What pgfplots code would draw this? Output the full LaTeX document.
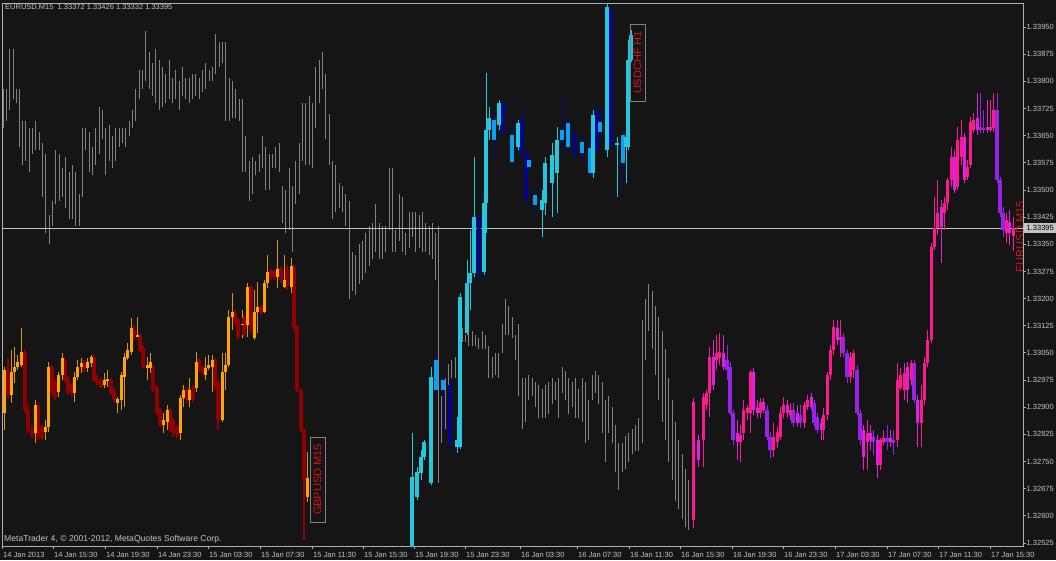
\documentclass[border=0pt]{standalone}
\usepackage{pgfplots}
\usepackage{pgfplotstable}
\pgfplotsset{compat=1.18}
\usepackage{fontspec}
\setmainfont{Liberation Sans}
\definecolor{bg}{RGB}{21,21,21}
\definecolor{axc}{RGB}{175,175,175}
\definecolor{txt}{RGB}{195,195,195}
\definecolor{barg}{RGB}{130,130,130}
\definecolor{pline}{RGB}{195,195,195}
\definecolor{gbpup}{RGB}{255,165,0}
\definecolor{gbpupw}{RGB}{210,150,20}
\definecolor{gbpdn}{RGB}{145,0,0}
\definecolor{chfup}{RGB}{35,200,222}
\definecolor{chfdn}{RGB}{5,5,140}
\definecolor{chfbl}{RGB}{10,160,245}
\definecolor{eurup}{RGB}{255,25,145}
\definecolor{eurdn}{RGB}{150,35,232}
\definecolor{eurmg}{RGB}{225,30,225}
\definecolor{lblred}{RGB}{215,20,20}
\definecolor{lblbox}{RGB}{130,130,130}

% EURUSD M15 bars (x = bar position, h = high, l = low)
\pgfplotstableread{
x h l
3 1.3378 1.3367
6 1.3378 1.3369
9 1.3389 1.3372
13 1.3389 1.3375
16 1.3378 1.3374
19 1.3378 1.3362
22 1.3369 1.3357
25 1.3369 1.3358
29 1.3367 1.3355
32 1.3367 1.3360
35 1.3369 1.3361
39 1.3366 1.3361
42 1.3363 1.3348
45 1.3360 1.3338
49 1.3343 1.3335
52 1.3347 1.3340
55 1.3361 1.3346
59 1.3360 1.3347
62 1.3356 1.3348
65 1.3359 1.3345
69 1.3355 1.3342
72 1.3357 1.3342
75 1.3355 1.3340
79 1.3349 1.3340
82 1.3367 1.3348
85 1.3367 1.3361
89 1.3366 1.3355
92 1.3362 1.3354
95 1.3367 1.3357
99 1.3373 1.3360
102 1.3372 1.3364
105 1.3367 1.3354
109 1.3368 1.3358
112 1.3365 1.3356
115 1.3367 1.3358
119 1.3367 1.3362
122 1.3367 1.3363
125 1.3367 1.3362
129 1.3369 1.3365
132 1.3372 1.3367
135 1.3378 1.3369
139 1.3383 1.3375
142 1.3383 1.3378
145 1.3394 1.3380
149 1.3388 1.3378
152 1.3385 1.3376
155 1.3389 1.3374
159 1.3386 1.3372
162 1.3384 1.3373
165 1.3382 1.3374
169 1.3386 1.3375
172 1.3381 1.3374
175 1.3383 1.3375
179 1.3380 1.3372
182 1.3384 1.3376
185 1.3381 1.3375
189 1.3381 1.3374
192 1.3382 1.3375
195 1.3382 1.3376
199 1.3381 1.3375
202 1.3383 1.3377
205 1.3385 1.3378
209 1.3383 1.3380
212 1.3384 1.3380
215 1.3393 1.3382
219 1.3391 1.3384
222 1.3391 1.3385
225 1.3391 1.3369
229 1.3381 1.3369
232 1.3380 1.3370
235 1.3378 1.3370
239 1.3375 1.3369
242 1.3375 1.3355
245 1.3365 1.3355
249 1.3358 1.3347
252 1.3359 1.3349
255 1.3358 1.3354
259 1.3360 1.3355
262 1.3365 1.3356
265 1.3362 1.3350
269 1.3360 1.3350
272 1.3360 1.3356
275 1.3362 1.3356
279 1.3363 1.3355
282 1.3351 1.3341
285 1.3350 1.3338
289 1.3356 1.3339
292 1.3351 1.3333
295 1.3358 1.3346
299 1.3363 1.3349
302 1.3374 1.3358
305 1.3374 1.3357
309 1.3376 1.3357
312 1.3374 1.3356
315 1.3384 1.3367
319 1.3386 1.3374
322 1.3388 1.3378
325 1.3382 1.3364
329 1.3371 1.3357
332 1.3358 1.3342
335 1.3357 1.3344
339 1.3352 1.3345
342 1.3351 1.3344
345 1.3349 1.3340
349 1.3347 1.3320
352 1.3333 1.3322
355 1.3332 1.3321
359 1.3335 1.3324
362 1.3336 1.3325
365 1.3338 1.3327
369 1.3340 1.3329
372 1.3341 1.3331
375 1.3346 1.3333
379 1.3341 1.3331
382 1.3340 1.3331
385 1.3340 1.3333
389 1.3356 1.3339
392 1.3356 1.3333
395 1.3339 1.3333
399 1.3349 1.3336
402 1.3348 1.3333
405 1.3338 1.3332
409 1.3344 1.3334
412 1.3344 1.3337
415 1.3344 1.3333
419 1.3343 1.3334
422 1.3344 1.3333
425 1.3341 1.3333
429 1.3340 1.3332
432 1.3341 1.3331
435 1.3338 1.3325
438 1.3340 1.3269
441 1.3293 1.3280
445 1.3298 1.3284
448 1.3302 1.3292
451 1.3303 1.3298
455 1.3304 1.3298
458 1.3311 1.3300
462 1.3312 1.3308
465 1.3310 1.3308
468 1.3314 1.3307
472 1.3311 1.3307
475 1.3310 1.3307
478 1.3309 1.3306
482 1.3311 1.3306
485 1.3310 1.3306
488 1.3307 1.3298
492 1.3304 1.3298
495 1.3305 1.3299
498 1.3305 1.3298
502 1.3313 1.3305
505 1.3320 1.3310
508 1.3318 1.3310
512 1.3315 1.3309
515 1.3310 1.3303
518 1.3313 1.3293
522 1.3298 1.3284
525 1.3298 1.3286
528 1.3299 1.3292
532 1.3298 1.3293
535 1.3297 1.3290
538 1.3296 1.3287
542 1.3295 1.3287
545 1.3296 1.3287
548 1.3297 1.3288
552 1.3298 1.3291
555 1.3297 1.3292
558 1.3298 1.3287
562 1.3301 1.3294
565 1.3300 1.3292
568 1.3298 1.3288
572 1.3297 1.3290
575 1.3298 1.3287
578 1.3295 1.3287
582 1.3298 1.3286
585 1.3297 1.3280
588 1.3292 1.3281
592 1.3299 1.3292
595 1.3300 1.3294
598 1.3299 1.3291
602 1.3297 1.3283
605 1.3292 1.3275
608 1.3293 1.3283
612 1.3290 1.3280
615 1.3285 1.3272
618 1.3280 1.3267
622 1.3280 1.3272
625 1.3282 1.3273
628 1.3283 1.3275
632 1.3284 1.3277
635 1.3285 1.3278
638 1.3287 1.3278
642 1.3314 1.3280
645 1.3320 1.3303
648 1.3324 1.3311
652 1.3322 1.3306
655 1.3318 1.3299
658 1.3315 1.3292
662 1.3311 1.3286
665 1.3306 1.3281
668 1.3298 1.3275
672 1.3292 1.3270
675 1.3286 1.3264
678 1.3281 1.3262
682 1.3277 1.3259
685 1.3273 1.3257
688 1.3270 1.3256
}\eurbars

% GBPUSD M15 overlay: t=1 bull, t=2 bear
\pgfplotstableread{
x o h l c t
5 1.32884 1.33011 1.32837 1.33003 1
8 1.33003 1.33036 1.32925 1.32934 2
12 1.32934 1.33058 1.32912 1.32997 1
15 1.32997 1.33066 1.32967 1.33011 1
18 1.33011 1.33044 1.33003 1.33025 1
22 1.33017 1.33119 1.33011 1.33052 1
25 1.33052 1.33058 1.32884 1.32892 2
28 1.32892 1.32906 1.32829 1.32837 2
32 1.32837 1.32851 1.32815 1.32823 2
35 1.32829 1.32920 1.32801 1.32906 1
38 1.32906 1.32912 1.32809 1.32818 2
42 1.32845 1.32851 1.32809 1.32815 2
45 1.32832 1.32865 1.32809 1.32845 1
48 1.32845 1.33025 1.32832 1.33011 1
52 1.33011 1.33017 1.32934 1.32939 2
55 1.32967 1.32975 1.32920 1.32928 2
58 1.32942 1.32997 1.32928 1.32989 1
62 1.32989 1.33050 1.32975 1.33036 1
65 1.33030 1.33036 1.32970 1.32975 2
68 1.32981 1.32986 1.32934 1.32939 2
72 1.32961 1.32967 1.32928 1.32939 2
74 1.32939 1.32997 1.32914 1.32983 1
77 1.32983 1.33030 1.32975 1.33011 1
81 1.33011 1.33036 1.32994 1.33022 1
84 1.33022 1.33030 1.32997 1.33003 2
87 1.33008 1.33036 1.32997 1.33025 1
91 1.33022 1.33044 1.33011 1.33039 1
94 1.33036 1.33044 1.32970 1.32975 2
97 1.32975 1.32989 1.32961 1.32967 2
101 1.32975 1.32981 1.32953 1.32956 2
104 1.32961 1.32994 1.32953 1.32975 1
107 1.32972 1.33003 1.32956 1.32978 1
111 1.32975 1.32981 1.32934 1.32939 2
114 1.32948 1.32953 1.32914 1.32920 2
117 1.32912 1.32928 1.32884 1.32923 1
121 1.32920 1.32997 1.32892 1.32989 1
124 1.32983 1.33050 1.32901 1.33039 1
127 1.33036 1.33077 1.33030 1.33058 1
131 1.33052 1.33146 1.33044 1.33119 1
134 1.33113 1.33127 1.33086 1.33094 2
137 1.33094 1.33149 1.33094 1.33099 1
140 1.33099 1.33105 1.33052 1.33058 2
143 1.33064 1.33072 1.33008 1.33011 2
147 1.33008 1.33039 1.32975 1.33017 1
150 1.33008 1.33050 1.32994 1.33025 1
153 1.33011 1.33017 1.32942 1.32948 2
157 1.32956 1.32961 1.32878 1.32884 2
160 1.32892 1.32898 1.32845 1.32851 2
163 1.32851 1.32884 1.32829 1.32865 1
167 1.32859 1.32906 1.32837 1.32892 1
170 1.32892 1.32898 1.32832 1.32837 2
173 1.32865 1.32870 1.32818 1.32832 2
177 1.32845 1.32851 1.32815 1.32820 2
180 1.32829 1.32934 1.32809 1.32925 1
183 1.32925 1.32961 1.32901 1.32948 1
187 1.32948 1.32953 1.32912 1.32920 2
189 1.32920 1.32981 1.32901 1.32948 1
193 1.32956 1.32961 1.32914 1.32920 2
196 1.32953 1.33052 1.32942 1.33025 1
199 1.33030 1.33036 1.32997 1.33003 2
203 1.33011 1.33017 1.32989 1.32994 2
205 1.32989 1.33039 1.32975 1.33008 1
208 1.33008 1.33044 1.33003 1.33017 1
212 1.33011 1.33044 1.32942 1.33030 1
215 1.33030 1.33036 1.32948 1.32956 2
218 1.32967 1.32975 1.32837 1.32865 2
222 1.32865 1.33050 1.32859 1.32997 1
225 1.32997 1.33050 1.32948 1.33017 1
228 1.33017 1.33168 1.33011 1.33149 1
232 1.33149 1.33215 1.33113 1.33163 1
235 1.33160 1.33168 1.33127 1.33133 2
238 1.33141 1.33146 1.33086 1.33094 2
242 1.33127 1.33168 1.33091 1.33130 1
244 1.33146 1.33155 1.33094 1.33099 2
247 1.33127 1.33243 1.33094 1.33232 1
251 1.33232 1.33238 1.33105 1.33113 2
254 1.33091 1.33224 1.33086 1.33163 1
257 1.33163 1.33246 1.33105 1.33177 1
261 1.33177 1.33182 1.33155 1.33160 2
264 1.33163 1.33251 1.33160 1.33243 1
267 1.33243 1.33320 1.33229 1.33273 1
271 1.33279 1.33284 1.33251 1.33260 2
274 1.33273 1.33279 1.33251 1.33260 2
277 1.33260 1.33362 1.33229 1.33282 1
281 1.33284 1.33290 1.33243 1.33251 2
284 1.33232 1.33320 1.33229 1.33251 1
287 1.33279 1.33293 1.33224 1.33238 2
291 1.33232 1.33312 1.33215 1.33290 1
294 1.33287 1.33293 1.33113 1.33122 2
297 1.33122 1.33127 1.32942 1.32948 2
301 1.32948 1.32953 1.32832 1.32837 2
304 1.32837 1.32843 1.32533 1.32699 2
307 1.32652 1.32776 1.32638 1.32704 1
}\gbp

% USDCHF H1 overlay: t=1 bull, t=2 bear (navy), t=3 bear (blue)
\pgfplotstableread{
x o h l c t
412 1.32511 1.32829 1.32511 1.32707 1
417 1.32652 1.32735 1.32644 1.32721 1
421 1.32718 1.32782 1.32699 1.32762 1
424 1.32762 1.32809 1.32754 1.32804 1
431 1.32691 1.33011 1.32685 1.32983 1
436 1.33030 1.33044 1.32934 1.32948 3
443 1.32975 1.32989 1.32829 1.32948 3
450 1.32961 1.32975 1.32790 1.32801 2
457 1.32790 1.32873 1.32774 1.32809 1
460 1.32790 1.33215 1.32785 1.33204 1
467 1.33105 1.33307 1.33099 1.33243 1
470 1.33243 1.33389 1.33168 1.33271 1
474 1.33271 1.33591 1.33260 1.33425 1
479 1.33425 1.33431 1.33251 1.33271 2
484 1.33273 1.33472 1.33265 1.33464 1
486 1.33464 1.33823 1.33381 1.33666 1
489 1.33666 1.33729 1.33638 1.33699 1
494 1.33693 1.33721 1.33591 1.33638 3
499 1.33679 1.33749 1.33666 1.33740 1
503 1.33740 1.33749 1.33652 1.33657 2
512 1.33652 1.33693 1.33574 1.33577 3
518 1.33619 1.33693 1.33610 1.33685 1
522 1.33693 1.33729 1.33588 1.33597 2
526 1.33597 1.33610 1.33458 1.33472 2
529 1.33583 1.33597 1.33555 1.33563 3
535 1.33486 1.33508 1.33425 1.33458 3
542 1.33445 1.33500 1.33370 1.33472 1
545 1.33464 1.33591 1.33431 1.33574 1
552 1.33519 1.33630 1.33425 1.33597 1
557 1.33547 1.33674 1.33436 1.33638 1
562 1.33666 1.33757 1.33610 1.33638 3
568 1.33685 1.33693 1.33605 1.33619 3
575 1.33657 1.33666 1.33583 1.33597 2
582 1.33632 1.33646 1.33583 1.33602 3
590 1.33616 1.33657 1.33536 1.33547 3
593 1.33547 1.33721 1.33533 1.33707 1
597 1.33721 1.33735 1.33597 1.33610 2
600 1.33688 1.33721 1.33652 1.33660 3
607 1.33610 1.34016 1.33591 1.34005 1
611 1.33997 1.34011 1.33616 1.33624 2
617 1.33624 1.33646 1.33481 1.33630 1
623 1.33652 1.33657 1.33500 1.33574 3
626 1.33619 1.33859 1.33519 1.33646 1
628 1.33619 1.33914 1.33610 1.33859 1
631 1.33859 1.33942 1.33853 1.33928 1
}\chf

% EURUSD M15 overlay: t=1 bull (pink), t=2 bear (purple), t=3 bear (magenta)
\pgfplotstableread{
x o h l c t
693 1.32588 1.32925 1.32566 1.32914 1
698 1.32809 1.32823 1.32735 1.32754 3
703 1.32809 1.32939 1.32735 1.32928 1
706 1.32906 1.32948 1.32892 1.32939 1
709 1.32939 1.33066 1.32873 1.33039 1
713 1.33039 1.33086 1.32948 1.32961 3
716 1.33030 1.33099 1.33003 1.33050 1
719 1.33036 1.33105 1.33017 1.33052 1
723 1.33050 1.33099 1.33003 1.33011 3
727 1.33030 1.33072 1.32975 1.33003 2
730 1.33011 1.33025 1.32878 1.32884 2
733 1.32884 1.32892 1.32796 1.32809 2
737 1.32829 1.32865 1.32754 1.32804 3
740 1.32804 1.32851 1.32749 1.32823 1
743 1.32829 1.32920 1.32809 1.32892 1
747 1.32884 1.32906 1.32865 1.32898 1
750 1.32884 1.33003 1.32829 1.32997 1
753 1.32997 1.33008 1.32878 1.32892 3
757 1.32898 1.32920 1.32870 1.32884 3
760 1.32884 1.32925 1.32870 1.32914 1
763 1.32914 1.32925 1.32884 1.32892 3
767 1.32892 1.32906 1.32809 1.32818 2
770 1.32818 1.32832 1.32760 1.32782 2
773 1.32782 1.32856 1.32762 1.32818 1
777 1.32804 1.32845 1.32787 1.32832 1
780 1.32818 1.32901 1.32809 1.32884 1
783 1.32884 1.32928 1.32870 1.32906 1
787 1.32906 1.32920 1.32870 1.32884 3
790 1.32878 1.32912 1.32865 1.32892 1
793 1.32892 1.32912 1.32845 1.32856 2
797 1.32884 1.32906 1.32845 1.32856 3
800 1.32878 1.32906 1.32843 1.32856 2
804 1.32856 1.32914 1.32843 1.32906 1
807 1.32901 1.32934 1.32892 1.32920 1
811 1.32928 1.32939 1.32892 1.32901 3
814 1.32912 1.32920 1.32845 1.32856 2
817 1.32873 1.32884 1.32829 1.32837 2
821 1.32856 1.32870 1.32809 1.32837 3
823 1.32837 1.32898 1.32809 1.32878 1
827 1.32878 1.32997 1.32865 1.32989 1
830 1.32989 1.33072 1.32975 1.33058 1
833 1.33058 1.33141 1.33044 1.33122 1
837 1.33119 1.33141 1.33072 1.33086 3
840 1.33086 1.33141 1.33039 1.33094 1
843 1.33094 1.33105 1.33039 1.33050 2
847 1.33050 1.33058 1.32967 1.32983 2
850 1.32983 1.33052 1.32967 1.33039 1
853 1.33003 1.33058 1.32981 1.33050 1
857 1.33003 1.33017 1.32878 1.32884 2
860 1.32884 1.32892 1.32796 1.32809 2
863 1.32837 1.32851 1.32727 1.32762 3
867 1.32804 1.32865 1.32727 1.32829 1
870 1.32829 1.32851 1.32782 1.32809 3
873 1.32818 1.32837 1.32768 1.32804 2
877 1.32809 1.32823 1.32704 1.32740 3
880 1.32740 1.32815 1.32727 1.32809 1
883 1.32804 1.32837 1.32796 1.32815 1
887 1.32815 1.32851 1.32782 1.32804 2
890 1.32815 1.32837 1.32790 1.32804 3
893 1.32809 1.32837 1.32768 1.32801 2
897 1.32809 1.33022 1.32790 1.32975 1
900 1.32953 1.33008 1.32948 1.32989 1
904 1.32948 1.33022 1.32920 1.32994 1
907 1.33011 1.33025 1.32912 1.32948 3
911 1.32975 1.33030 1.32961 1.33022 1
914 1.33022 1.33030 1.32912 1.32920 2
917 1.32920 1.32934 1.32790 1.32856 3
921 1.32856 1.32961 1.32790 1.32920 1
924 1.32920 1.33039 1.32906 1.33022 1
927 1.33022 1.33113 1.33011 1.33086 1
931 1.33086 1.33354 1.33077 1.33342 1
934 1.33342 1.33481 1.33334 1.33395 1
937 1.33395 1.33528 1.33376 1.33436 1
941 1.33453 1.33472 1.33298 1.33398 3
944 1.33436 1.33481 1.33389 1.33464 1
947 1.33464 1.33533 1.33445 1.33528 1
951 1.33528 1.33619 1.33508 1.33591 1
954 1.33591 1.33610 1.33492 1.33500 3
957 1.33508 1.33674 1.33500 1.33638 1
961 1.33591 1.33693 1.33569 1.33646 1
964 1.33646 1.33657 1.33519 1.33528 3
967 1.33536 1.33583 1.33528 1.33563 1
970 1.33569 1.33702 1.33561 1.33688 1
973 1.33666 1.33713 1.33657 1.33693 1
977 1.33699 1.33768 1.33652 1.33666 3
980 1.33674 1.33768 1.33657 1.33666 2
983 1.33671 1.33721 1.33657 1.33666 2
987 1.33674 1.33749 1.33657 1.33666 3
990 1.33666 1.33749 1.33660 1.33674 1
993 1.33671 1.33768 1.33660 1.33721 1
997 1.33721 1.33768 1.33519 1.33528 2
1000 1.33528 1.33536 1.33425 1.33436 2
1003 1.33436 1.33453 1.33370 1.33389 2
1006 1.33381 1.33436 1.33354 1.33417 1
1009 1.33412 1.33445 1.33348 1.33381 3
1013 1.33372 1.33426 1.33332 1.33395 1
}\eurc

\pgfplotsset{
  wick/.style n args={3}{draw=none, mark=none, forget plot,
    restrict expr to domain={\thisrow{t}}{#1},
    error bars/.cd, y dir=plus, y explicit, error mark=none,
    error bar style={draw=#2, line width=#3}},
}

\begin{document}
\begin{tikzpicture}[x=1pt,y=1pt]
\useasboundingbox (0,-14) rectangle (1056,546);
\fill[bg] (0,-14) rectangle (1056,546);
\begin{axis}[
  at={(2pt,0pt)}, anchor=south west,
  scale only axis, width=1021pt, height=543pt,
  xmin=2, xmax=1023, ymin=1.3251665, ymax=1.340164,
  axis line style={draw=axc, line width=0.8pt},
  xtick pos=lower, ytick pos=right, yticklabel pos=right,
  tick align=outside, major tick length=3pt,
  tick style={draw=axc, line width=0.8pt},
  scaled y ticks=false, scaled x ticks=false,
  xtick={2,53,105,157,208,260,312,363,414,465,520,577,629,680,732,783,835,887,938,990},
  xticklabels={14 Jan 2013,14 Jan 15:30,14 Jan 19:30,14 Jan 23:30,15 Jan 03:30,15 Jan 07:30,15 Jan 11:30,15 Jan 15:30,15 Jan 19:30,15 Jan 23:30,16 Jan 03:30,16 Jan 07:30,16 Jan 11:30,16 Jan 15:30,16 Jan 19:30,16 Jan 23:30,17 Jan 03:30,17 Jan 07:30,17 Jan 11:30,17 Jan 15:30},
  ytick={1.32525,1.32600,1.32675,1.32750,1.32825,1.32900,1.32975,1.33050,1.33125,1.33200,1.33275,1.33350,1.33425,1.33500,1.33575,1.33650,1.33725,1.33800,1.33875,1.33950},
  yticklabels={1.32525,1.32600,1.32675,1.32750,1.32825,1.32900,1.32975,1.33050,1.33125,1.33200,1.33275,1.33350,1.33425,1.33500,1.33575,1.33650,1.33725,1.33800,1.33875,1.33950},
  ticklabel style={text=txt, font=\fontsize{7.5}{9}\selectfont, inner sep=0pt},
  yticklabel style={anchor=west, xshift=0.5pt},
  xticklabel style={anchor=base west, xshift=1pt, yshift=-8pt},
]
% EURUSD M15 chart bars
\addplot[draw=none, mark=none, forget plot,
  error bars/.cd, y dir=plus, y explicit, error mark=none,
  error bar style={draw=barg, line width=0.9pt}]
  table[x=x, y=l, y error plus expr=\thisrow{h}-\thisrow{l}] {\eurbars};
% current price line
\addplot[pline, line width=0.8pt, forget plot] coordinates {(2,1.33395) (1023,1.33395)};
\coordinate (pl) at (axis cs:1023,1.33395);

% GBPUSD
\addplot[wick={0.5:1.5}{gbpupw}{1pt}] table[x=x, y=l, y error plus expr=\thisrow{h}-\thisrow{l}] {\gbp};
\addplot[wick={1.5:2.5}{gbpdn}{1.2pt}] table[x=x, y=l, y error plus expr=\thisrow{h}-\thisrow{l}] {\gbp};
\addplot[wick={1.5:2.5}{gbpdn}{3.4pt}] table[x=x, y expr={min(\thisrow{o},\thisrow{c})}, y error plus expr={abs(\thisrow{c}-\thisrow{o})}] {\gbp};
\addplot[wick={0.5:1.5}{gbpup}{3pt}] table[x=x, y expr={min(\thisrow{o},\thisrow{c})}, y error plus expr={abs(\thisrow{c}-\thisrow{o})}] {\gbp};

% USDCHF
\addplot[wick={1.5:3.5}{chfdn}{1pt}] table[x=x, y=l, y error plus expr=\thisrow{h}-\thisrow{l}] {\chf};
\addplot[wick={0.5:1.5}{chfup}{1pt}] table[x=x, y=l, y error plus expr=\thisrow{h}-\thisrow{l}] {\chf};
\addplot[wick={1.5:2.5}{chfdn}{4.5pt}] table[x=x, y expr={min(\thisrow{o},\thisrow{c})}, y error plus expr={abs(\thisrow{c}-\thisrow{o})}] {\chf};
\addplot[wick={2.5:3.5}{chfbl}{3.4pt}] table[x=x, y expr={min(\thisrow{o},\thisrow{c})}, y error plus expr={abs(\thisrow{c}-\thisrow{o})}] {\chf};
\addplot[wick={0.5:1.5}{chfup}{3.4pt}] table[x=x, y expr={min(\thisrow{o},\thisrow{c})}, y error plus expr={abs(\thisrow{c}-\thisrow{o})}] {\chf};

% EURUSD overlay
\addplot[wick={1.5:2.5}{eurdn}{1pt}] table[x=x, y=l, y error plus expr=\thisrow{h}-\thisrow{l}] {\eurc};
\addplot[wick={2.5:3.5}{eurmg}{1pt}] table[x=x, y=l, y error plus expr=\thisrow{h}-\thisrow{l}] {\eurc};
\addplot[wick={0.5:1.5}{eurup}{1pt}] table[x=x, y=l, y error plus expr=\thisrow{h}-\thisrow{l}] {\eurc};
\addplot[wick={1.5:2.5}{eurdn}{3.2pt}] table[x=x, y expr={min(\thisrow{o},\thisrow{c})}, y error plus expr={abs(\thisrow{c}-\thisrow{o})}] {\eurc};
\addplot[wick={2.5:3.5}{eurmg}{3pt}] table[x=x, y expr={min(\thisrow{o},\thisrow{c})}, y error plus expr={abs(\thisrow{c}-\thisrow{o})}] {\eurc};
\addplot[wick={0.5:1.5}{eurup}{3pt}] table[x=x, y expr={min(\thisrow{o},\thisrow{c})}, y error plus expr={abs(\thisrow{c}-\thisrow{o})}] {\eurc};
\end{axis}

% texts
\node[anchor=west, text=txt, font=\fontsize{7.5}{9}\selectfont, inner sep=0pt] at (5,539) {EURUSD,M15\ \ 1.33372 1.33426 1.33332 1.33395};
\node[anchor=west, text=txt, font=\fontsize{8.6}{10}\selectfont, inner sep=0pt] at (4,7) {MetaTrader 4, © 2001-2012, MetaQuotes Software Corp.};
\node[anchor=west, fill=txt, text=black, font=\fontsize{7.5}{9}\selectfont, inner xsep=2.5pt, inner ysep=2pt, minimum width=33pt] at ([xshift=0.5pt]pl) {1.33395};

\node[rotate=90, draw=lblbox, line width=0.8pt, text=lblred, minimum width=85pt, minimum height=15pt, inner sep=0pt, font=\fontsize{11}{13}\selectfont] at (317.5,66.5) {GBPUSD M15};
\node[rotate=90, draw=lblbox, line width=0.8pt, text=lblred, minimum width=77pt, minimum height=15pt, inner sep=0pt, font=\fontsize{11}{13}\selectfont] at (637.5,483.5) {USDCHF H1};
\begin{scope}
\clip (2,0) rectangle (1022.6,543);
\node[rotate=90, text=lblred, inner sep=0pt, font=\fontsize{11}{13}\selectfont] at (1020,309) {EURUSD M15};
\end{scope}
\end{tikzpicture}
\end{document}
